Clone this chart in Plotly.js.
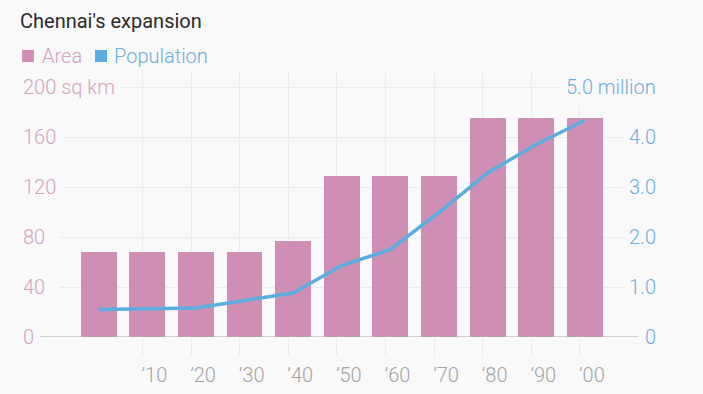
<!DOCTYPE html>
<html>
<head>
<meta charset="utf-8">
<script src="https://cdn.plot.ly/plotly-3.0.1.min.js"></script>
<style>
  html, body { margin: 0; padding: 0; background: #f9f9f9; }
  #chart { width: 703px; height: 394px; }
</style>
</head>
<body>
<div id="chart"></div>
<script>
// ---- data ----
const years = [1901, 1911, 1921, 1931, 1941, 1951, 1961, 1971, 1981, 1991, 2001];
const areaSqKm = [68, 68, 68, 68, 77, 128.5, 128.5, 128.5, 175.5, 175.5, 175.5];
const populationMillion = [0.55, 0.56, 0.58, 0.73, 0.88, 1.43, 1.75, 2.49, 3.28, 3.85, 4.33];
const xTickVals = [1910, 1920, 1930, 1940, 1950, 1960, 1970, 1980, 1990, 2000];
const xTickText = ["’10", "’20", "’30", "’40", "’50", "’60", "’70", "’80", "’90", "’00"];
const leftTickVals = [0, 40, 80, 120, 160, 200];
const leftTickText = ["0", "40", "80", "120", "160", "200 sq km"];
const rightTickVals = [0, 1, 2, 3, 4, 5];
const rightTickText = ["0", "1.0", "2.0", "3.0", "4.0", "5.0 million"];

// ---- styling ----
const BG = "#f9f9f9";
const PINK = "#cf8fb5";
const BLUE = "#5aaedf";
const PINK_TXT = "#d3a2c1";
const BLUE_TXT = "#6aaedb";
const GRID = "#ebebeb";
const FONT = "Roboto, 'Open Sans', sans-serif";

const L = 60, R = 622, T = 72, B = 337;
const px2x = p => (p - L) / (R - L);
const py2y = p => (B - p) / (B - T);

const traces = [
  {
    type: "bar", x: years, y: areaSqKm, name: "Area",
    width: 7.4,
    marker: { color: PINK, line: { width: 0 } },
    hoverinfo: "skip"
  },
  {
    type: "scatter", mode: "lines", x: years, y: populationMillion, name: "Population",
    yaxis: "y2",
    line: { color: BLUE, width: 3.5 },
    hoverinfo: "skip"
  }
];

const annotations = [];
leftTickVals.forEach((v, i) => {
  annotations.push({
    xref: "paper", yref: "y", x: px2x(16), y: v, xanchor: "left", yanchor: "middle",
    text: leftTickText[i], showarrow: false, bgcolor: BG, borderpad: 6,
    font: { family: FONT, size: 20, weight: 300, color: PINK_TXT }
  });
});
rightTickVals.forEach((v, i) => {
  annotations.push({
    xref: "paper", yref: "y2", x: px2x(663), y: v, xanchor: "right", yanchor: "middle",
    text: rightTickText[i], showarrow: false, bgcolor: BG, borderpad: 6,
    font: { family: FONT, size: 20, weight: 300, color: BLUE_TXT }
  });
});
// legend
annotations.push({
  xref: "paper", yref: "paper", x: px2x(40), y: py2y(56), xanchor: "left", yanchor: "middle",
  text: "Area", showarrow: false,
  font: { family: FONT, size: 20, weight: 300, color: PINK_TXT }
});
annotations.push({
  xref: "paper", yref: "paper", x: px2x(112), y: py2y(56), xanchor: "left", yanchor: "middle",
  text: "Population", showarrow: false,
  font: { family: FONT, size: 20, weight: 300, color: BLUE_TXT }
});

const shapes = [
  { type: "rect", xref: "paper", yref: "paper", x0: px2x(22), x1: px2x(34), y0: py2y(62), y1: py2y(50),
    fillcolor: PINK, line: { width: 0 } },
  { type: "rect", xref: "paper", yref: "paper", x0: px2x(95), x1: px2x(107), y0: py2y(62), y1: py2y(50),
    fillcolor: BLUE, line: { width: 0 } },
  { type: "line", xref: "paper", yref: "y", x0: px2x(39), x1: px2x(639), y0: 0, y1: 0,
    line: { color: "#aaaaaa", width: 1.2 }, layer: "above" }
];

const layout = {
  width: 703, height: 394,
  paper_bgcolor: BG, plot_bgcolor: BG,
  margin: { l: L, r: 703 - R, t: T, b: 394 - B },
  showlegend: false,
  title: {
    text: "Chennai's expansion", xref: "container", yref: "container",
    x: 20 / 703, xanchor: "left", y: 1 - 21 / 394, yanchor: "middle",
    font: { family: FONT, size: 20, color: "#2b2b2b" }
  },
  xaxis: {
    range: [1893.04, 2008.67],
    tickvals: xTickVals, ticktext: xTickText,
    showgrid: true, gridcolor: GRID, gridwidth: 1,
    ticks: "outside", ticklen: 18, tickcolor: GRID, tickwidth: 1,
    zeroline: false, showline: false,
    ticklabelshift: 12, ticklabelstandoff: 2,
    tickfont: { family: FONT, size: 20, weight: 300, color: "#a3a3a3" },
    fixedrange: true
  },
  yaxis: {
    range: [0, 212], tickvals: leftTickVals,
    showticklabels: false, showgrid: true, gridcolor: GRID, gridwidth: 1,
    zeroline: false, showline: false, ticks: "", fixedrange: true
  },
  yaxis2: {
    range: [0, 5.3], overlaying: "y", side: "right",
    showticklabels: false, showgrid: false, zeroline: false, showline: false,
    ticks: "", fixedrange: true
  },
  bargap: 0,
  annotations: annotations,
  shapes: shapes
};

Plotly.newPlot("chart", traces, layout, { displayModeBar: false, staticPlot: true });
</script>
</body>
</html>
